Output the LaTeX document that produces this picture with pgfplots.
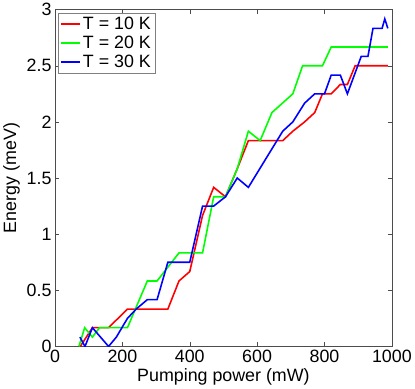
\documentclass[border=0pt]{standalone}
\usepackage{fontspec}
\setmainfont{Liberation Sans}
\usepackage{pgfplots}
\pgfplotsset{compat=1.18}
\definecolor{pred}{RGB}{255,0,0}
\definecolor{pgreen}{RGB}{0,255,0}
\definecolor{pblue}{RGB}{0,0,255}
\begin{document}
\begin{tikzpicture}
\begin{axis}[
  width=340pt, height=340pt, scale only axis,
  xmin=0, xmax=1000, ymin=0, ymax=3,
  xtick={0,200,...,1000}, ytick={0,0.5,...,3},
  tick align=inside, major tick length=4pt,
  axis line style={black!70},
  tick style={black!70, line width=0.5pt},
  /pgf/number format/assume math mode=true,
  /pgf/number format/set thousands separator={},
  tick label style={font=\fontsize{18}{21}\selectfont},
  label style={font=\fontsize{18}{21}\selectfont},
  xlabel={Pumping power (mW)}, ylabel={Energy (meV)},
  xlabel style={yshift=1pt},
  legend style={at={(0.01,0.99)}, anchor=north west, draw=black!50,
    font=\fontsize{18}{21}\selectfont, row sep=1pt, inner sep=2pt},
  legend cell align=left,
  legend image code/.code={\draw[#1, line width=1.6pt] (0pt,0pt) -- (19pt,0pt);},
  every axis plot/.append style={line width=1.6pt},
]
% T = 10 K
\addplot[pred] coordinates {
  (75,0.0) (111,0.167) (159,0.167) (215,0.333) (335,0.333) (368,0.583)
  (400,0.667) (438,1.167) (471,1.417) (506,1.333) (541,1.583) (574,1.833)
  (676,1.833) (706,1.917) (741,2.0) (771,2.083) (794,2.25) (820,2.25)
  (847,2.333) (868,2.333) (891,2.5) (988,2.5)
};
\addlegendentry{T = 10 K}
% T = 20 K
\addplot[pgreen] coordinates {
  (71,0.0) (88,0.167) (111,0.083) (132,0.167) (215,0.167) (274,0.583)
  (303,0.583) (368,0.833) (438,0.833) (471,1.333) (506,1.333) (541,1.583)
  (574,1.917) (609,1.833) (644,2.083) (706,2.25) (735,2.5) (794,2.5)
  (820,2.667) (988,2.667)
};
\addlegendentry{T = 20 K}
% T = 30 K
\addplot[pblue] coordinates {
  (74,0.083) (89,0.0) (111,0.167) (159,0.0) (182,0.083) (215,0.25)
  (241,0.333) (274,0.417) (303,0.417) (335,0.75) (400,0.75) (438,1.25)
  (471,1.25) (506,1.333) (541,1.5) (574,1.417) (676,1.917) (706,2.0)
  (741,2.167) (771,2.25) (800,2.25) (820,2.417) (847,2.417) (868,2.25)
  (909,2.583) (929,2.583) (944,2.833) (971,2.833) (979,2.917) (988,2.833)
};
\addlegendentry{T = 30 K}
\end{axis}
\end{tikzpicture}
\end{document}
